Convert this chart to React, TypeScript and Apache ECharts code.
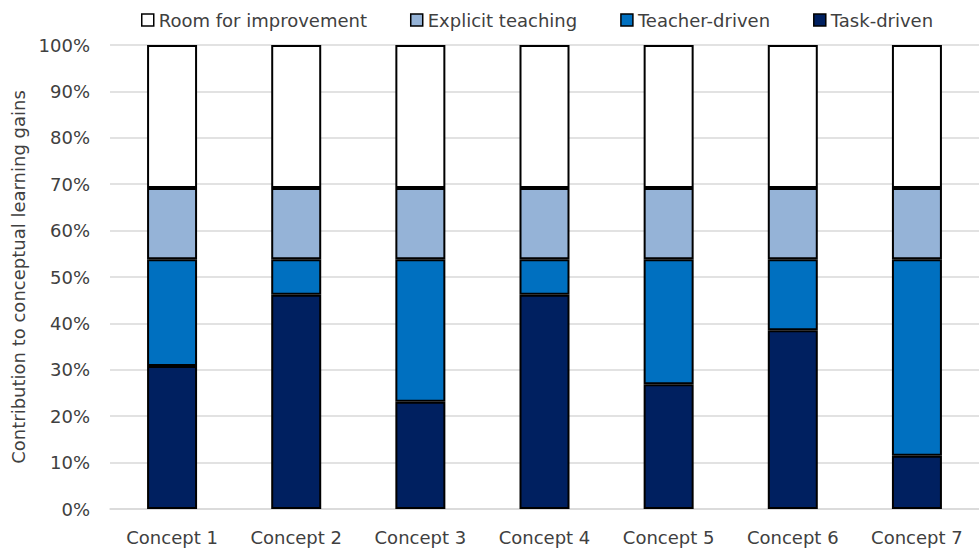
import React, { useEffect, useRef } from "react";
import * as echarts from "echarts";

// Categories and stacked shares (percent of total conceptual learning gain)
const concepts = ["Concept 1", "Concept 2", "Concept 3", "Concept 4", "Concept 5", "Concept 6", "Concept 7"];
const taskDriven = [30.8, 46.2, 23.1, 46.2, 26.9, 38.5, 11.5];
const teacherDriven = [23.0, 7.6, 30.7, 7.6, 26.9, 15.3, 42.3];
const explicitTeaching = [15.4, 15.4, 15.4, 15.4, 15.4, 15.4, 15.4];
const roomForImprovement = [30.8, 30.8, 30.8, 30.8, 30.8, 30.8, 30.8];

const legendOrder = ["Room for improvement", "Explicit teaching", "Teacher-driven", "Task-driven"];

const FONT = "'DejaVu Sans', sans-serif";
const TEXT = "#404040";
const SIZE = 18;

export default function App() {
  const ref = useRef<HTMLDivElement>(null);

  useEffect(() => {
    if (!ref.current) return;
    const chart = echarts.init(ref.current, undefined, { renderer: "svg" });

    const mk = (name: string, data: number[], color: string) => ({
      name,
      type: "bar",
      stack: "total",
      data,
      barWidth: 50,
      itemStyle: { color, borderColor: "#000", borderWidth: 2 },
    });

    chart.setOption({
      animation: false,
      textStyle: { fontFamily: FONT },
      legend: {
        data: legendOrder,
        top: 6,
        left: 136,
        icon: "rect",
        itemWidth: 12,
        itemHeight: 12,
        itemGap: 43,
        itemStyle: { borderWidth: 1.5 },
        textStyle: { fontFamily: FONT, fontSize: SIZE, color: TEXT },
      },
      grid: { left: 110, right: -2, top: 45, bottom: 41, containLabel: false },
      xAxis: {
        type: "category",
        data: concepts,
        axisLine: { lineStyle: { color: "#d9d9d9", width: 1.5 } },
        axisTick: { show: false },
        axisLabel: { fontFamily: FONT, fontSize: SIZE, color: TEXT, margin: 19 },
      },
      yAxis: {
        type: "value",
        min: 0,
        max: 100,
        interval: 10,
        name: "Contribution to conceptual learning gains",
        nameLocation: "middle",
        nameGap: 80,
        nameTextStyle: { fontFamily: FONT, fontSize: SIZE, color: TEXT },
        axisLabel: { fontFamily: FONT, fontSize: SIZE, color: TEXT, margin: 20, formatter: "{value}%" },
        splitLine: { lineStyle: { color: "#d9d9d9", width: 1.5 } },
      },
      series: [
        mk("Task-driven", taskDriven, "#002060"),
        mk("Teacher-driven", teacherDriven, "#0070C0"),
        mk("Explicit teaching", explicitTeaching, "#95B3D7"),
        mk("Room for improvement", roomForImprovement, "#FFFFFF"),
      ],
    });

    return () => chart.dispose();
  }, []);

  return (
    <div
      ref={ref}
      style={{ position: "fixed", left: 0, top: 0, width: 979, height: 550, background: "#fff" }}
    />
  );
}
